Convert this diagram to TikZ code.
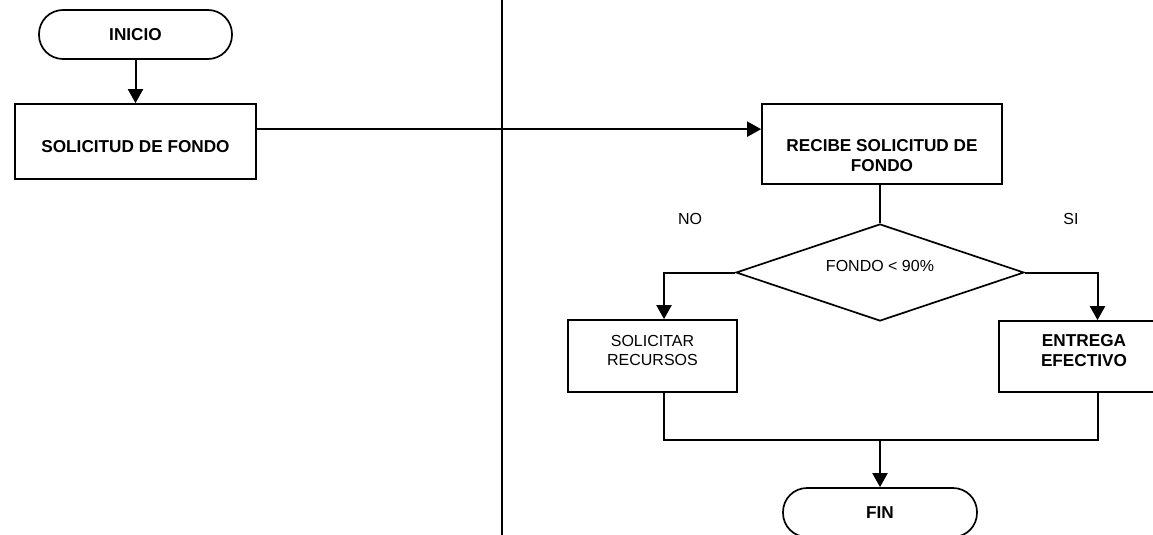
\documentclass[tikz,border=0pt]{standalone}
\usepackage{fontspec}
\setmainfont{Liberation Sans}
\usetikzlibrary{arrows.meta,calc,shapes.geometric}
\tikzset{
  box/.style={draw, line width=1.7pt, inner sep=0pt},
  term/.style={draw, line width=1.7pt, rounded corners=24pt, inner sep=0pt,
    font=\fontsize{17.2}{20}\selectfont\bfseries},
  dec/.style={draw, diamond, line width=1.7pt, inner sep=0pt},
  ln/.style={line width=2pt},
  arr/.style={ln, -{Triangle[length=14pt,width=15pt]}},
  bt/.style={font=\fontsize{17.2}{20}\selectfont\bfseries, align=center, inner sep=0pt},
  rt/.style={font=\fontsize{16}{19.5}\selectfont, align=center, inner sep=0pt},
}
\begin{document}
\begin{tikzpicture}[x=1pt,y=-1pt]
\useasboundingbox (0,0) rectangle (1153,535);
% lane divider
\draw[ln] (501.5,0) -- (501.5,535);
% nodes
\node[term, minimum width=193pt, minimum height=49pt] (ini) at (135.5,34.5) {INICIO};
\node[box, minimum width=241pt, minimum height=75pt] (b1) at (135.5,141.5) {};
\node[bt] (t1) at (135.5,147) {SOLICITUD DE FONDO};
\node[box, minimum width=240pt, minimum height=80pt] (b2) at (882,144) {};
\node[bt] (t2) at (882,156) {RECIBE SOLICITUD DE\\FONDO};
\node[dec, minimum width=288pt, minimum height=97pt] (dia) at (880,272.5) {};
\node[rt] (t3) at (880,266) {FONDO < 90\%};
\node[box, minimum width=169pt, minimum height=72pt] (b3) at (652.5,356) {};
\node[rt] (t4) at (652.5,350.5) {SOLICITAR\\RECURSOS};
\node[box, minimum width=169pt, minimum height=71pt] (b4) at (1083.5,356.5) {};
\node[bt] (t5) at (1084,350.5) {ENTREGA\\EFECTIVO};
\node[term, minimum width=194pt, minimum height=49pt] (fin) at (880,512.5) {FIN};
\node[rt] (no) at (690,219) {NO};
\node[rt] (si) at (1071,219) {SI};
% connectors
\draw[arr] (ini.south) -- (b1.north);
\draw[arr] ($(b1.north east)+(0,26)$) -- ($(b2.north west)+(0,26)$);
\draw[ln] (dia.north |- b2.south) -- (dia.north);
\draw[arr] (dia.west) -| ($(b3.north)+(11.5,0)$);
\draw[arr] (dia.east) -| ($(b4.north)+(14,0)$);
\coordinate (m) at (880,440);
\draw[ln] ($(b3.south)+(11.5,0)$) |- (m) -| ($(b4.south)+(14,0)$);
\draw[arr] (m) -- (fin.north);
\end{tikzpicture}
\end{document}
